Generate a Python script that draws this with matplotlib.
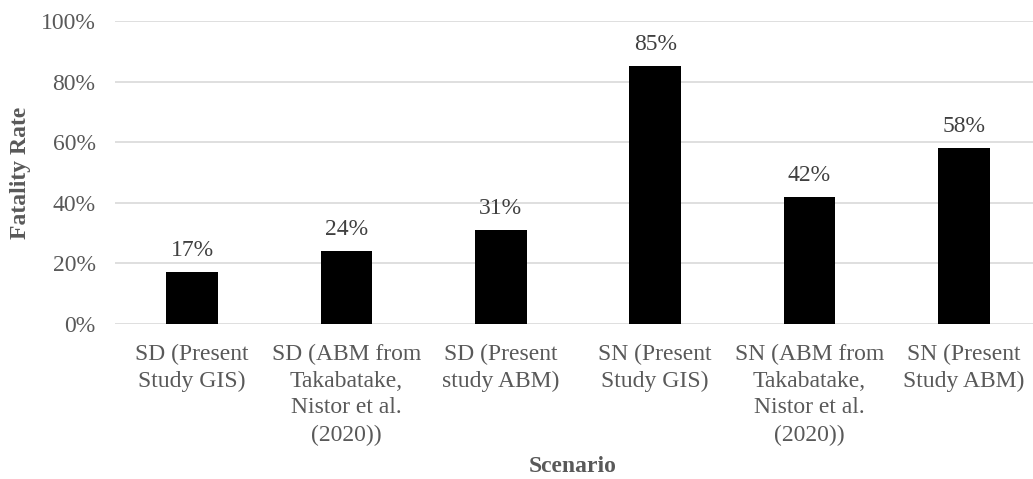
import matplotlib
matplotlib.use("Agg")
import matplotlib.pyplot as plt
from matplotlib.ticker import PercentFormatter

categories = [
    "SD (Present\nStudy GIS)",
    "SD (ABM from\nTakabatake,\nNistor et al.\n(2020))",
    "SD (Present\nstudy ABM)",
    "SN (Present\nStudy GIS)",
    "SN (ABM from\nTakabatake,\nNistor et al.\n(2020))",
    "SN (Present\nStudy ABM)",
]
fatality_rate = [0.17, 0.24, 0.31, 0.85, 0.42, 0.58]
y_ticks = [0.0, 0.2, 0.4, 0.6, 0.8, 1.0]

plt.rcParams["font.family"] = ["Liberation Serif", "DejaVu Serif"]
TEXT = "#595959"
FS = 17

W, H = 1033, 479
fig = plt.figure(figsize=(W / 100, H / 100), dpi=100)
left, right, bottom, top = 115, 1041, 479 - 324, 479 - 21
ax = fig.add_axes([left / W, bottom / H, (right - left) / W, (top - bottom) / H])

x = range(len(categories))
bars = ax.bar(x, fatality_rate, width=0.335, color="black", zorder=3)

for rect, v in zip(bars, fatality_rate):
    ax.annotate(f"{v:.0%}", (rect.get_x() + rect.get_width() / 2, v),
                xytext=(0, 8), textcoords="offset points",
                ha="center", va="bottom", fontsize=FS, color="#404040")

ax.set_xlim(-0.5, len(categories) - 0.5)
ax.set_ylim(0, 1.0)
ax.set_yticks(y_ticks)
ax.yaxis.set_major_formatter(PercentFormatter(1.0, decimals=0))
ax.set_xticks(list(x))
ax.set_xticklabels(categories, linespacing=1.37)
ax.tick_params(axis="both", length=0, labelsize=FS, colors=TEXT)
ax.tick_params(axis="x", pad=14)
ax.tick_params(axis="y", pad=14)

ax.grid(axis="y", color="#d9d9d9", linewidth=1.2, zorder=0)
for s in ax.spines.values():
    s.set_visible(False)

ax.set_ylabel("Fatality Rate", fontsize=FS, fontweight="bold", color=TEXT)
ax.yaxis.set_label_coords(-(left - 31) / (right - left), 0.5)
fig.text(573 / W, 1 - 466 / H, "Scenario", ha="center", va="center",
         fontsize=FS, fontweight="bold", color=TEXT)

fig.savefig("out.png", dpi=100)
